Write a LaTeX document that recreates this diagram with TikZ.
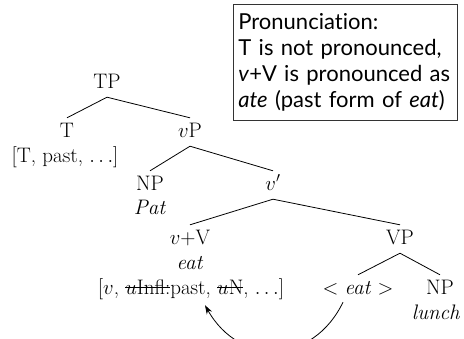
\documentclass[tikz,border=0pt]{standalone}
\usepackage{fontspec}
\newfontfamily\notefont[Ligatures=NoCommon]{Lato}
\usetikzlibrary{arrows.meta}
% struck-out feature: a rule drawn through the boxed text
\newsavebox{\strikebox}
\newcommand{\struck}[1]{\sbox{\strikebox}{#1}%
  \rlap{\raisebox{0.28em}{\rule{\wd\strikebox}{1.1pt}}}\usebox{\strikebox}}
\begin{document}
\begin{tikzpicture}[x=1pt,y=-1pt,
  lbl/.style={anchor=base, inner sep=5pt, text height=14pt, text depth=4pt,
    font=\fontsize{21}{25}\selectfont},
  branch/.style={line width=0.8pt},
  movearrow/.style={line width=0.8pt, -{Stealth[length=9pt,width=6pt]}},
  notebox/.style={draw=black!80, line width=0.8pt, anchor=north west,
    minimum width=224pt, minimum height=116pt, inner xsep=5pt,
    text width=214pt, align=left,
    font=\notefont\fontsize{22}{26}\selectfont}]
\useasboundingbox (0,0) rectangle (464,338);

% explanatory note
\node[notebox] (note) at (233,4) {Pronunciation:\\
T is not pronounced,\\
\textit{v}+V is pronounced as\\
\textit{ate} (past form of \textit{eat})};

% tree labels
\node[lbl] (TP)    at (107,88)  {TP};
\node[lbl] (T)     at (67,137)  {T};
\node[lbl] (Tf)    at (65,162)  {[T, past, $\ldots$]};
\node[lbl] (vP)    at (190,137) {$v$P};
\node[lbl] (NP)    at (150,190) {NP};
\node[lbl] (Pat)   at (150,214) {\textit{Pat}};
\node[lbl] (vbar)  at (273,190) {$v'$};
\node[lbl] (vV)    at (190,244) {$v$+V};
\node[lbl] (eat)   at (190,269) {\textit{eat}};
\node[lbl] (feat)  at (191,294) {[$v$, \struck{$u$Infl:}past, \struck{$u$N}, $\ldots$]};
\node[lbl] (VP)    at (400,244) {VP};
\node[lbl] (trace) at (358,294) {$<$ \textit{eat} $>$};
\node[lbl] (NPo)   at (440,294) {NP};
\node[lbl] (lunch) at (436,319) {\textit{lunch}};

% branches
\draw[branch] (TP.south) -- (T.north);
\draw[branch] (TP.south) -- (vP.north);
\draw[branch] (vP.south) -- (NP.north);
\draw[branch] (vP.south) -- (vbar.north);
\draw[branch] (vbar.south) -- (vV.north);
\draw[branch] (vbar.south) -- (VP.north);
\draw[branch] (VP.south) -- (trace.north);
\draw[branch] (VP.south) -- (NPo.north);

% head movement of the verb
\draw[movearrow] ([xshift=-15pt,yshift=1pt]trace.south)
  .. controls +(-30,62) and +(35,62) .. ([xshift=14pt,yshift=-2pt]feat.south);
\end{tikzpicture}
\end{document}
